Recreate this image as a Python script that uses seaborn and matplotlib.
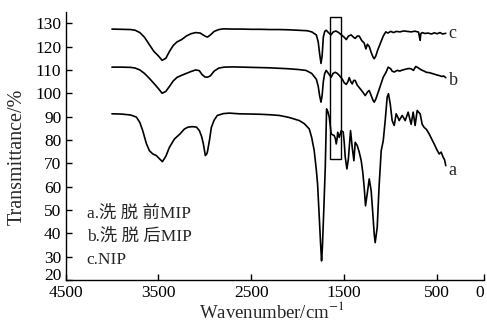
import pandas as pd
import matplotlib
matplotlib.use('Agg')
import matplotlib.pyplot as plt
from matplotlib.patches import Rectangle
from matplotlib.transforms import ScaledTranslation
import seaborn as sns

# spectra (wavenumber, transmittance)
wn_c = [4000, 3900, 3800, 3750, 3700, 3650, 3600, 3550, 3500, 3460, 3420, 3380, 3340, 3300, 3250, 3200,
        3150, 3100, 3050, 3020, 2990, 2970, 2940, 2900, 2850, 2800, 2700, 2600, 2500, 2400, 2300, 2200,
        2100, 2000, 1900, 1850, 1800, 1780, 1765, 1750, 1738, 1725, 1710, 1694, 1670, 1643, 1620, 1590,
        1560, 1530, 1500, 1478, 1455, 1425, 1400, 1382, 1360, 1339, 1310, 1285, 1267, 1250, 1230, 1210,
        1190, 1177, 1160, 1140, 1110, 1080, 1053, 1030, 1000, 970, 940, 900, 860, 820, 780, 740, 700,
        690, 683, 676, 660, 630, 600, 560, 530, 500, 470, 440, 407]
t_c = [127.5, 127.4, 127.3, 127, 126, 124, 121, 118, 116, 114.1, 115, 118, 120.5, 122, 123, 124.5,
       125.5, 126, 125.8, 125, 124.3, 124.1, 125, 126.5, 127.3, 127.6, 127.5, 127.5, 127.4, 127.4, 127.3, 127.3,
       127.2, 127, 126.8, 126.3, 125, 122, 117, 112.8, 116, 124, 126.5, 127, 126, 125, 126.2, 126.7,
       126, 125, 124, 123, 124.5, 125, 124, 123.5, 124.5, 124.5, 122.5, 121.5, 119, 121, 120, 117.5,
       115.5, 114.8, 116, 118.5, 121.5, 124.5, 126.3, 125.8, 126.5, 126, 126.5, 126.3, 126.7, 126.5, 126.3, 126.6, 126.2,
       124, 122.7, 125.5, 126, 125.6, 125.8, 125.4, 125.9, 125.5, 126, 125.4, 125.7]

wn_b = [4000, 3900, 3800, 3750, 3700, 3650, 3600, 3550, 3500, 3460, 3420, 3380, 3340, 3300, 3250, 3200,
        3150, 3100, 3060, 3030, 3000, 2970, 2940, 2900, 2850, 2790, 2700, 2600, 2500, 2400, 2300, 2200,
        2100, 2000, 1912, 1850, 1800, 1780, 1765, 1750, 1738, 1725, 1710, 1694, 1670, 1640, 1620, 1597,
        1575, 1554, 1520, 1500, 1478, 1460, 1446, 1430, 1414, 1398, 1382, 1360, 1330, 1300, 1274, 1250,
        1231, 1210, 1190, 1177, 1160, 1130, 1100, 1080, 1050, 1027, 1000, 985, 962, 930, 900, 887, 850,
        810, 780, 755, 730, 700, 670, 640, 618, 580, 540, 500, 478, 450, 430, 407]
t_b = [111.2, 111.2, 111.1, 110.8, 110, 108.5, 106.5, 104.3, 102, 100, 100.8, 103, 105.3, 106.8, 107.7, 108.5,
       109.3, 110, 109.7, 108, 107, 106.9, 107.5, 109.5, 110.8, 111.2, 111.3, 111.2, 111.1, 111, 110.9, 110.7,
       110.5, 110.2, 109.8, 108.5, 106, 103, 99, 96.2, 99, 105, 108.5, 109.8, 108.5, 106.9, 108.5, 109,
       108.5, 107.7, 106, 104.5, 103.8, 105, 106.7, 105, 104, 105.5, 105.5, 103.5, 102, 100.5, 99, 100.5,
       101.2, 99, 97, 96.2, 97.5, 101, 104.5, 106.9, 109, 111.2, 110.5, 109.5, 109.1, 109.8, 109.5, 109.8, 110.2,
       110.6, 110.5, 109.8, 111.5, 110.8, 110, 109.5, 109, 108.8, 108.3, 107.8, 107.6, 107.2, 107.4, 106.7]

wn_a = [4000, 3900, 3800, 3737, 3700, 3669, 3630, 3597, 3560, 3522, 3490, 3457, 3420, 3382, 3328, 3270,
        3220, 3180, 3134, 3090, 3059, 3035, 3016, 2995, 2980, 2973, 2950, 2930, 2900, 2866, 2800, 2737,
        2629, 2500, 2400, 2300, 2199, 2100, 2040, 1984, 1930, 1876, 1850, 1823, 1800, 1787, 1770, 1755,
        1744, 1735, 1720, 1704, 1690, 1675, 1661, 1650, 1640, 1625, 1608, 1595, 1586, 1577, 1570, 1554,
        1532, 1511, 1500, 1489, 1471, 1455, 1446, 1432, 1414, 1396, 1382, 1360, 1340, 1317, 1300, 1285,
        1271, 1253, 1231, 1210, 1195, 1177, 1167, 1145, 1125, 1102, 1080, 1059, 1038, 1024, 1005, 984,
        962, 941, 920, 909, 876, 844, 812, 780, 758, 737, 715, 683, 661, 640, 615, 586, 560, 532, 505,
        478, 457, 435, 420, 407]
t_a = [91.2, 91.1, 90.7, 89.8, 87.5, 84, 78.5, 75.4, 74, 73.3, 72, 70.7, 73, 76.8, 80.4, 82.5,
       84.7, 85.5, 85.7, 85.5, 84, 81.5, 78.3, 73.3, 74, 74.8, 80, 85.4, 88.5, 90.5, 91.3, 91.5,
       91.2, 91.1, 91, 90.8, 90.5, 89.7, 89, 88.3, 87, 84.7, 81, 75.4, 67, 61.2, 48, 36,
       28.2, 34, 50, 68.3, 93.3, 92, 89.7, 86, 82.6, 82.2, 81.9, 80.5, 78.3, 80.5, 83.3, 81.1,
       84, 83.4, 79, 72.6, 67.6, 72, 76.8, 84, 76.8, 71.1, 79, 77.6, 75, 71.1, 66, 59.7,
       51.8, 56.8, 63.3, 58.2, 50, 39.6, 36, 42.5, 60, 75.4, 79.7, 88.3, 98.3, 99.8, 95.5, 88.3,
       86.2, 91.2, 89.5, 88.3, 90.5, 88.3, 91.9, 86.7, 91.9, 86.2, 92.6, 91.2, 86.7, 85.4, 84.5, 82.6, 80.5, 78.3, 76,
       74, 74.8, 72.6, 71.5, 69]

legend_lines = ['a.洗 脱 前MIP', 'b.洗 脱 后MIP', 'c.NIP']

df = pd.concat([
    pd.DataFrame({'wn': wn_a, 'T': t_a, 's': 'a'}),
    pd.DataFrame({'wn': wn_b, 'T': t_b, 's': 'b'}),
    pd.DataFrame({'wn': wn_c, 'T': t_c, 's': 'c'}),
])

sns.set_style('ticks')
plt.rcParams['font.family'] = ['Liberation Serif', 'Noto Sans CJK SC']
plt.rcParams['mathtext.fontset'] = 'stix'

fig = plt.figure(figsize=(4.87, 3.23), dpi=100)
ax = fig.add_axes([0.1345, 0.1331, 0.8585, 0.8289])

sns.lineplot(data=df, x='wn', y='T', units='s', estimator=None, sort=False,
             color='black', linewidth=1.2, ax=ax)

ax.add_patch(Rectangle((1535, 72), 115, 60.7, fill=False, edgecolor='black', linewidth=1.0))

ax.set_xlim(4500, 0)
ax.set_ylim(20, 134.7)
ax.set_xticks([4500, 3500, 2500, 1500, 500, 0])
ax.set_yticks(range(20, 131, 10))
ax.tick_params(direction='in', length=4, width=1, labelsize=12.5, colors='black')
ax.tick_params(axis='y', pad=3)
ax.tick_params(axis='x', pad=3.5)
sns.despine(ax=ax)
for sp in ['left', 'bottom']:
    ax.spines[sp].set_linewidth(1.0)
    ax.spines[sp].set_color('black')
ax.set_xlabel('')
ax.set_ylabel('')

# nudge end labels so they clear each other and the figure edge
lab20 = ax.get_yticklabels()[0]
lab20.set_transform(lab20.get_transform() + ScaledTranslation(0, 4 / 72, fig.dpi_scale_trans))
lab0 = ax.get_xticklabels()[-1]
lab0.set_transform(lab0.get_transform() + ScaledTranslation(-3 / 72, 0, fig.dpi_scale_trans))

fig.text(17 / 487, 1 - 157 / 323, 'Transmittance/%', rotation=90, ha='center', va='center', fontsize=14.5)
fig.text(272 / 487, 1 - 312 / 323, 'Wavenumber/cm$^{-1}$', ha='center', va='center', fontsize=13.5)

for txt, yv in zip(legend_lines, [48.3, 38.4, 28.5]):
    ax.text(4270, yv, txt, ha='left', va='center', fontsize=12.5)

for lab, yv in zip(['c', 'b', 'a'], [125.8, 105.5, 66.8]):
    ax.text(375, yv, lab, ha='left', va='center', fontsize=13)

fig.savefig('out.png', dpi=100)
